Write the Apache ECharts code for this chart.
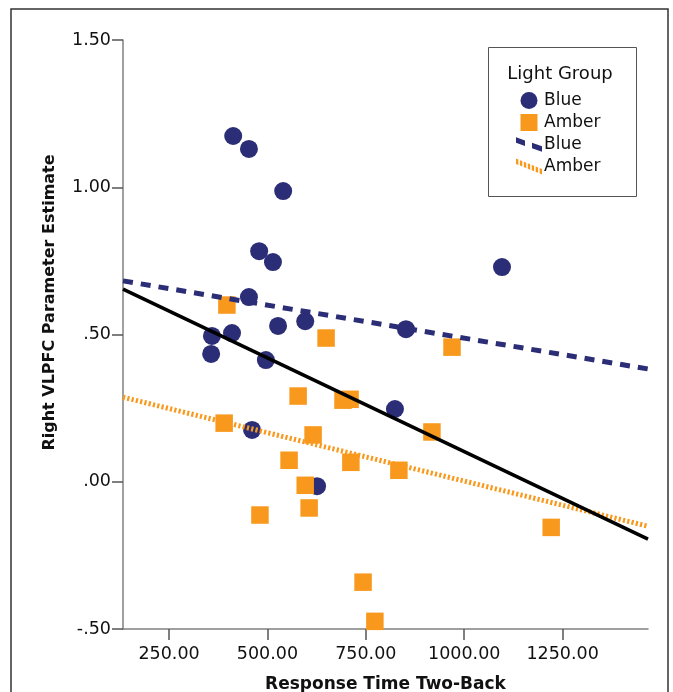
<!DOCTYPE html>
<html>
<head>
<meta charset="utf-8">
<style>
  html, body { margin: 0; padding: 0; background: #fff; }
  #chart { width: 673px; height: 692px; }
</style>
<script src="https://cdn.jsdelivr.net/npm/echarts@6/dist/echarts.min.js"></script>
</head>
<body>
<div id="chart"></div>
<script>
// ---- data ----
const xTickValues = [250, 500, 750, 1000, 1250];
const yTickValues = [-0.5, 0, 0.5, 1.0, 1.5];

const blueRT   = [413, 453, 540, 479, 514, 453, 359, 410, 527, 596, 357, 496, 461, 626, 852, 824, 1096];
const blueEst  = [1.174, 1.130, 0.987, 0.783, 0.746, 0.627, 0.495, 0.505, 0.529, 0.545, 0.434, 0.413, 0.176, -0.015, 0.518, 0.247, 0.729];

const amberRT  = [397, 649, 969, 578, 692, 710, 390, 616, 555, 712, 918, 834, 596, 481, 606, 1221, 743, 773];
const amberEst = [0.600, 0.488, 0.457, 0.291, 0.277, 0.280, 0.199, 0.159, 0.073, 0.066, 0.169, 0.039, -0.012, -0.113, -0.089, -0.155, -0.341, -0.474];

// fit lines (endpoints at the axis range)
const fitX        = [133, 1467];
const blueFitY    = [0.682, 0.383];
const amberFitY   = [0.287, -0.151];
const totalFitY   = [0.654, -0.195];

const BLUE = '#2b2d76';
const AMBER = '#f8991d';
const FONT = 'DejaVu Sans';

const zip = (a, b) => a.map((v, i) => [v, b[i]]);

const chart = echarts.init(document.getElementById('chart'), null, { renderer: 'canvas' });

const yFmt = v => {
  let s = Math.abs(v).toFixed(2);
  if (s.startsWith('0')) s = s.slice(1);
  return (v < 0 ? '-' : '') + s;
};

const legendNames = { 'Blue': 'Blue', 'Amber': 'Amber', 'Blue fit': 'Blue', 'Amber fit': 'Amber' };

// slanted dash / dot legend icons
const dashIcon = 'path://M0,0L9,3.2L9,8.7L0,5.5ZM16,5.6L26,9.1L26,14.6L16,11.1Z';
let dotPath = '';
for (let i = 0; i < 7; i++) {
  const x = i * 4;
  const y = x * 0.4;
  dotPath += `M${x},${y}L${x + 2.4},${(y + 0.96).toFixed(2)}L${x + 2.4},${(y + 6.46).toFixed(2)}L${x},${y + 5.5}Z`;
}
const dotIcon = 'path://' + dotPath;

const option = {
  animation: false,
  backgroundColor: '#fff',
  grid: { left: 123, right: 25, top: 40, bottom: 63, containLabel: false, outerBoundsMode: 'none' },
  xAxis: {
    type: 'value',
    min: fitX[0],
    max: fitX[1],
    name: 'Response Time Two-Back',
    nameLocation: 'middle',
    nameGap: 47,
    nameTextStyle: { fontFamily: FONT, fontSize: 17, fontWeight: 'bold', color: '#111' },
    axisLine: { show: true, onZero: false, lineStyle: { color: '#808080', width: 1.5 } },
    axisTick: { show: true, inside: false, length: 11, customValues: xTickValues, lineStyle: { color: '#555', width: 1.5 } },
    axisLabel: {
      customValues: xTickValues,
      formatter: v => v.toFixed(2),
      margin: 16,
      fontFamily: FONT, fontSize: 17.5, color: '#111'
    },
    splitLine: { show: false }
  },
  yAxis: {
    type: 'value',
    min: -0.5,
    max: 1.5,
    interval: 0.5,
    name: 'Right VLPFC Parameter Estimate',
    nameLocation: 'middle',
    nameRotate: 90,
    nameGap: 65,
    nameTextStyle: { fontFamily: FONT, fontSize: 16, fontWeight: 'bold', color: '#111', padding: [0, 0, 0, 64] },
    axisLine: { show: true, onZero: false, lineStyle: { color: '#808080', width: 1.5 } },
    axisTick: { show: true, inside: false, length: 11, lineStyle: { color: '#555', width: 1.5 } },
    axisLabel: { formatter: yFmt, margin: 12, fontFamily: FONT, fontSize: 17.5, color: '#111' },
    splitLine: { show: false }
  },
  legend: {
    orient: 'vertical',
    left: 516,
    top: 92,
    itemWidth: 26,
    itemHeight: 17,
    itemGap: 5,
    padding: 0,
    z: 10,
    selectedMode: false,
    formatter: n => legendNames[n],
    textStyle: { fontFamily: FONT, fontSize: 17, color: '#111', lineHeight: 17, padding: [0, 0, 0, -3] },
    data: [
      { name: 'Blue', icon: 'circle', itemStyle: { color: BLUE, borderWidth: 0 } },
      { name: 'Amber', icon: 'path://M0,0H1V1H0Z', itemStyle: { color: AMBER, borderWidth: 0 } },
      { name: 'Blue fit', icon: dashIcon, itemStyle: { color: BLUE, borderWidth: 0, opacity: 1 } },
      { name: 'Amber fit', icon: dotIcon, itemStyle: { color: AMBER, borderWidth: 0, opacity: 1 } }
    ]
  },
  graphic: [
    { type: 'rect', silent: true, z: 0,
      shape: { x: 11, y: 9, width: 657, height: 720 },
      style: { fill: 'none', stroke: '#333', lineWidth: 1.5 } },
    { type: 'rect', silent: true, z: 0,
      shape: { x: 488.5, y: 47.5, width: 148, height: 149 },
      style: { fill: 'none', stroke: '#555', lineWidth: 1 } },
    { type: 'text', silent: true, z: 6, x: 560, y: 74,
      style: { text: 'Light Group', fontFamily: FONT, fontSize: 18, fill: '#111', textAlign: 'center', textVerticalAlign: 'middle' } }
  ],
  series: [
    {
      name: 'Blue', type: 'scatter', symbol: 'circle', symbolSize: 18, symbolKeepAspect: true,
      itemStyle: { color: BLUE, opacity: 1 },
      data: zip(blueRT, blueEst), z: 2
    },
    {
      name: 'Amber', type: 'scatter', symbol: 'rect', symbolSize: 17.5, symbolKeepAspect: true,
      itemStyle: { color: AMBER, opacity: 1 },
      data: zip(amberRT, amberEst), z: 3
    },
    {
      name: 'Blue fit', type: 'line', symbol: 'none', showSymbol: false, symbolKeepAspect: true,
      color: BLUE, itemStyle: { color: BLUE },
      lineStyle: { color: BLUE, width: 5, type: [10, 8] },
      data: zip(fitX, blueFitY), z: 4, silent: true
    },
    {
      name: 'Amber fit', type: 'line', symbol: 'none', showSymbol: false, symbolKeepAspect: true,
      color: AMBER, itemStyle: { color: AMBER },
      lineStyle: { color: AMBER, width: 5, type: [2.2, 2.2] },
      data: zip(fitX, amberFitY), z: 4, silent: true
    },
    {
      name: 'Total fit', type: 'line', symbol: 'none', showSymbol: false,
      color: '#000',
      lineStyle: { color: '#000', width: 3.5, type: 'solid' },
      data: zip(fitX, totalFitY), z: 4, silent: true
    }
  ]
};

chart.setOption(option);
</script>
</body>
</html>
